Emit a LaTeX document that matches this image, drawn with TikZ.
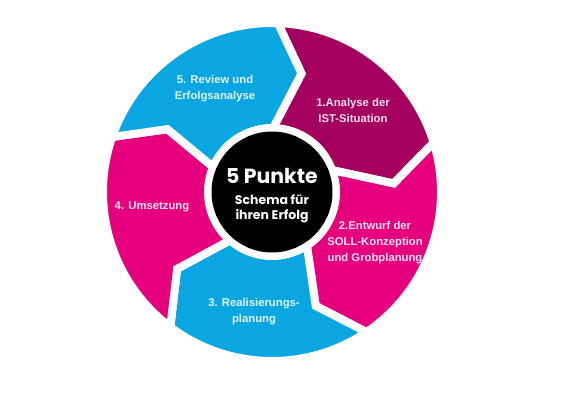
\documentclass[tikz,border=0pt]{standalone}
\usepackage{fontspec}
\setmainfont{Liberation Sans}
\newfontfamily\pop{Poppins}
\definecolor{plumseg}{HTML}{A6005F}
\definecolor{pinkseg}{HTML}{E6007E}
\definecolor{skyseg}{HTML}{0AA6E1}
\begin{document}
\begin{tikzpicture}[x=1pt,y=1pt,
  seg/.style={draw=white, line width=8pt, line join=miter, miter limit=10},
  lbl/.style={text=white, text opacity=0.88, font=\bfseries\fontsize{11.3}{16}\selectfont, align=center, inner sep=0pt},
  hubtxt/.style={text=white, font=\pop\bfseries, inner sep=0pt, anchor=base}
]
\useasboundingbox (0,0) rectangle (580,400);
\begin{scope}[shift={(272,208)}]
  % 1: upper right
  \path[seg, fill=plumseg] (88:169) arc[start angle=88, end angle=17, radius=169pt]
    -- (4:122) -- (20:64) arc[start angle=20, end angle=89, radius=64pt] -- (76:122) -- cycle;
  % 2: right lower
  \path[seg, fill=pinkseg] (17:169) arc[start angle=17, end angle=-56, radius=169pt]
    -- (-69:122) -- (-57:64) arc[start angle=-57, end angle=20, radius=64pt] -- (4:122) -- cycle;
  % 3: bottom
  \path[seg, fill=skyseg] (304:169) arc[start angle=304, end angle=233, radius=169pt]
    -- (219:122) -- (229:64) arc[start angle=229, end angle=303, radius=64pt] -- (291:122) -- cycle;
  % 4: left
  \path[seg, fill=pinkseg] (233:169) arc[start angle=233, end angle=161, radius=169pt]
    -- (149:122) -- (157:64) arc[start angle=157, end angle=229, radius=64pt] -- (219:122) -- cycle;
  % 5: upper left
  \path[seg, fill=skyseg] (161:169) arc[start angle=161, end angle=88, radius=169pt]
    -- (76:122) -- (89:64) arc[start angle=89, end angle=157, radius=64pt] -- (149:122) -- cycle;

  \node[circle, fill=black, minimum size=121pt, inner sep=0pt] (hub) at (0,0) {};
  \node[hubtxt, font=\pop\bfseries\fontsize{20.5}{21}\selectfont] (title) at (0,8.5) {5 Punkte};
  \node[hubtxt, font=\pop\bfseries\fontsize{12.5}{13}\selectfont] (sub1) at (0,-12.5) {Schema für};
  \node[hubtxt, font=\pop\bfseries\fontsize{12.5}{13}\selectfont] (sub2) at (0,-27.5) {ihren Erfolg};

  \node[lbl] (l1) at (81,82) {1.Analyse der\\IST-Situation};
  \node[lbl] (l2) at (103,-51) {2.Entwurf der\\SOLL-Konzeption\\und Grobplanung};
  \node[lbl] (l3) at (-18,-119.5) {3. Realisierungs-\\planung};
  \node[lbl] (l4) at (-120,-15) {4. Umsetzung};
  \node[lbl] (l5) at (-57,103) {5. Review und\\Erfolgsanalyse};
\end{scope}
\end{tikzpicture}
\end{document}
